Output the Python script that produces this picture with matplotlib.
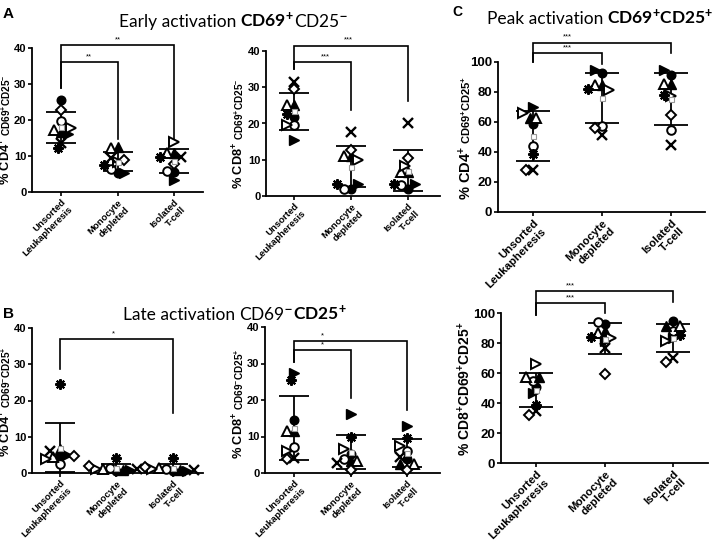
import matplotlib
matplotlib.use("Agg")
import matplotlib.pyplot as plt
import numpy as np

W, H = 727, 558

plt.rcParams['font.family'] = ['Liberation Sans', 'DejaVu Sans']
plt.rcParams['mathtext.fontset'] = 'custom'
plt.rcParams['mathtext.rm'] = 'Liberation Sans:bold'
plt.rcParams['mathtext.default'] = 'rm'

# ---- data (one value per donor, donor order matches marker list below) ----
categories = ['Unsorted\nLeukapheresis', 'Monocyte\ndepleted', 'Isolated\nT-cell']

# donors: filled circle, open circle, filled tri up, open tri up,
#         filled tri right, open tri right, cross, open diamond, asterisk
early_cd4_unsorted = [25.6, 19.8, 16.8, 17.2, 16.0, 17.7, 13.7, 22.8, 12.1]
early_cd4_monocyte = [5.4, 6.3, 12.4, 12.1, 5.2, 8.4, 9.4, 8.9, 7.5]
early_cd4_isolated = [5.6, 5.9, 10.7, 10.7, 3.3, 14.0, 9.6, 7.8, 9.8]

early_cd8_unsorted = [21.7, 19.7, 25.1, 25.1, 15.4, 19.5, 31.5, 29.4, 22.6]
early_cd8_monocyte = [1.8, 2.0, 11.0, 11.0, 3.2, 10.0, 17.7, 12.8, 3.4]
early_cd8_isolated = [1.8, 2.9, 6.6, 6.6, 3.2, 8.2, 20.2, 10.6, 3.2]

late_cd4_unsorted = [4.6, 2.5, 6.6, 4.4, 5.0, 3.9, 6.0, 4.8, 24.6]
late_cd4_monocyte = [0.6, 1.4, 0.8, 1.2, 0.8, 1.0, 1.0, 1.9, 4.2]
late_cd4_isolated = [0.5, 1.2, 0.7, 1.5, 0.6, 1.0, 0.9, 1.7, 4.2]

late_cd8_unsorted = [14.4, 7.1, 11.4, 11.4, 27.3, 5.9, 4.1, 3.9, 25.6]
late_cd8_monocyte = [5.2, 3.8, 3.2, 3.2, 16.1, 6.5, 2.7, 0.7, 10.0]
late_cd8_isolated = [3.8, 5.9, 2.5, 2.5, 12.9, 7.3, 4.5, 0.7, 9.5]

peak_cd4_unsorted = [58.9, 44.0, 62.7, 62.7, 70.0, 66.0, 27.8, 27.8, 38.4]
peak_cd4_monocyte = [92.9, 57.3, 84.4, 84.4, 94.4, 81.6, 51.1, 56.0, 82.2]
peak_cd4_isolated = [91.6, 54.4, 85.6, 85.6, 95.0, 77.1, 44.4, 64.9, 78.2]

peak_cd8_unsorted = [50.7, 54.9, 57.3, 57.3, 46.7, 66.0, 34.4, 31.8, 38.9]
peak_cd8_monocyte = [92.9, 93.8, 87.8, 86.7, 81.1, 83.3, 76.7, 59.6, 83.8]
peak_cd8_isolated = [94.4, 88.0, 91.1, 91.1, 83.3, 81.6, 70.0, 67.3, 85.1]

# ---- styles ----
marker_styles = [
    dict(marker='o', mfc='k', mec='k', ms=6.2),
    dict(marker='o', mfc='w', mec='k', ms=6.2, mew=1.4),
    dict(marker='^', mfc='k', mec='k', ms=7.2),
    dict(marker='^', mfc='w', mec='k', ms=7.2, mew=1.4),
    dict(marker='>', mfc='k', mec='k', ms=7.2),
    dict(marker='>', mfc='w', mec='k', ms=7.2, mew=1.4),
    dict(marker='x', mfc='k', mec='k', ms=6.5, mew=1.7),
    dict(marker='D', mfc='w', mec='k', ms=5.2, mew=1.4),
    dict(marker=(8, 2, 0), mfc='k', mec='k', ms=7.5, mew=1.5),
]

fig = plt.figure(figsize=(W / 100, H / 100), dpi=100)
fig.patch.set_facecolor('white')


def swarm(vals, ppu_y, ppu_x, d=6.3):
    # spread overlapping points sideways (pixel space)
    placed, offs = [], []
    cands = [0]
    for n in range(1, 12):
        cands += [-n, n]
    for v in vals:
        yp = v * ppu_y
        xp = 0
        for c in cands:
            xp = c * d * 0.55
            if all((xp - a) ** 2 + (yp - b) ** 2 >= d * d for a, b in placed):
                break
        placed.append((xp, yp))
        offs.append(xp / ppu_x)
    return offs


def draw_panel(box, groups, top, step, brackets, big=False):
    xl, xr, c0, c2, y0, ytop = box
    ax = fig.add_axes([xl / W, 1 - y0 / H, (xr - xl) / W, (y0 - ytop) / H])
    sp = (c2 - c0) / 2
    ax.set_xlim((xl - c0) / sp, (xr - c0) / sp)
    ax.set_ylim(0, top)
    ppu_y = (y0 - ytop) / top
    cap = 12.5 if big else 11
    for i, vals in enumerate(groups):
        vals = np.asarray(vals, dtype=float)
        m, s = vals.mean(), vals.std(ddof=1)
        ax.errorbar(i, m, yerr=s, color='k', lw=1.3, capsize=cap, capthick=1.3,
                    zorder=2, clip_on=False)
        offs = swarm(vals, ppu_y, sp)
        for v, o, st in zip(vals, offs, marker_styles):
            ax.plot(i + o, v, ls='none', clip_on=False, zorder=3, **st)
        ax.plot(i, m, marker='s', ms=3.6, mfc='w', mec='0.6', mew=0.8, zorder=5,
                clip_on=False)
    for (i, j, y, li, lj, lab, lx) in brackets:
        ax.plot([i, i, j, j], [li, y, y, lj], color='k', lw=1.2, clip_on=False,
                solid_joinstyle='miter')
        ax.text(lx, y + top * 0.012, lab, ha='center', va='bottom',
                fontsize=5.5, clip_on=False)
    for s in ['top', 'right']:
        ax.spines[s].set_visible(False)
    for s in ['left', 'bottom']:
        ax.spines[s].set_linewidth(1.3)
    ax.set_yticks(np.arange(0, top + 1, step))
    ax.set_xticks([0, 1, 2])
    ylab_size = 9.5 if big else 8.0
    xlab_size = 8.2 if big else 6.8
    ax.tick_params(direction='out', length=2.6, width=1.2, pad=1.5)
    ax.set_yticklabels([str(int(t)) for t in ax.get_yticks()],
                       fontsize=ylab_size, fontweight='bold')
    ax.set_xticklabels(categories, rotation=45, ha='right', rotation_mode='anchor',
                       fontsize=xlab_size, fontweight='bold')
    for t in ax.get_xticklabels():
        t.set_multialignment('right')
    return ax


renderer = fig.canvas.get_renderer()


def rich(x, y, parts, rotation=0):
    # pieces of text laid one after another, centred on pixel (x, y)
    items, total = [], 0.0
    for s, kw, gap in parts:
        t = fig.text(0, 0, s, rotation=rotation, rotation_mode='anchor',
                     ha='left', va='baseline', **kw)
        bb = t.get_window_extent(renderer)
        L = (bb.height if rotation else bb.width) + gap
        items.append((t, L))
        total += L
    cum = 0.0
    for t, L in items:
        if rotation:
            t.set_position((x / W, 1 - (y + total / 2 - cum) / H))
        else:
            t.set_position(((x - total / 2 + cum) / W, 1 - y / H))
        cum += L


draw_panel((32, 203, 61, 174, 192, 48),
           [early_cd4_unsorted, early_cd4_monocyte, early_cd4_isolated], 40, 10,
           [(0, 2, 40.8, 29, 14.7, '**', 1.0), (0, 1, 36, 29, 14.7, '**', 0.5)])
draw_panel((266, 440, 294, 408, 196, 51),
           [early_cd8_unsorted, early_cd8_monocyte, early_cd8_isolated], 40, 10,
           [(0, 2, 41.5, 35, 26.3, '***', 0.95), (0, 1, 37, 35, 23.7, '***', 0.55)])
draw_panel((32, 203, 60, 173, 473, 328),
           [late_cd4_unsorted, late_cd4_monocyte, late_cd4_isolated], 40, 10,
           [(0, 2, 37, 28.7, 16.6, '*', 0.95)])
draw_panel((265, 440, 294, 407, 473, 327),
           [late_cd8_unsorted, late_cd8_monocyte, late_cd8_isolated], 40, 10,
           [(0, 2, 36.2, 30.5, 17.3, '*', 0.5), (0, 1, 33.6, 30.5, 20.5, '*', 0.5)])
draw_panel((498, 705, 533, 671, 212, 62),
           [peak_cd4_unsorted, peak_cd4_monocyte, peak_cd4_isolated], 100, 20,
           [(0, 2, 113, 100, 106, '***', 0.5), (0, 1, 106, 100, 98.7, '***', 0.5)],
           big=True)
draw_panel((501, 708, 536, 673, 463, 313),
           [peak_cd8_unsorted, peak_cd8_monocyte, peak_cd8_isolated], 100, 20,
           [(0, 2, 114.4, 99, 107.3, '***', 0.5), (0, 1, 106.7, 99, 100, '***', 0.5)],
           big=True)

# y labels
small = dict(fontsize=7.2, fontweight='bold')
large = dict(fontsize=9.2, fontweight='bold')
rich(11, 130, [('% CD4$^{+}$', large, 1.5), ('CD69$^{+}$CD25$^{-}$', small, 0)], 90)
rich(244, 134, [('% CD8$^{+}$', large, 1.5), ('CD69$^{+}$CD25$^{-}$', small, 0)], 90)
rich(11, 402, [('% CD4$^{+}$', large, 1.5), ('CD69$^{-}$CD25$^{+}$', small, 0)], 90)
rich(244, 404, [('% CD8$^{+}$', large, 1.5), ('CD69$^{-}$CD25$^{+}$', small, 0)], 90)
rich(471, 138, [('% CD4$^{+}$', dict(fontsize=10.5, fontweight='bold'), 1.5),
                ('CD69$^{+}$CD25$^{+}$', dict(fontsize=8, fontweight='bold'), 0)], 90)
rich(470, 389, [('% CD8$^{+}$CD69$^{+}$CD25$^{+}$', dict(fontsize=10, fontweight='bold'), 0)], 90)

# titles
tn = dict(fontsize=12.5, family=['Lato', 'DejaVu Sans'])
tb = dict(fontsize=12.5, family=['Lato', 'DejaVu Sans'], fontweight='bold')
rich(233, 27, [('Early activation', tn, 4), ('CD69$^{+}$', tb, 0), ('CD25$^{-}$', tn, 0)])
rich(235, 320, [('Late activation', tn, 4), ('CD69$^{-}$', tn, 0), ('CD25$^{+}$', tb, 0)])
rich(600, 24, [('Peak activation', tn, 4), ('CD69$^{+}$CD25$^{+}$', tb, 0)])

# panel letters
fig.text(3 / W, 1 - 18 / H, 'A', fontsize=11, fontweight='bold', va='baseline')
fig.text(3 / W, 1 - 318 / H, 'B', fontsize=11, fontweight='bold', va='baseline')
fig.text(452 / W, 1 - 16 / H, 'C', fontsize=10, fontweight='bold', va='baseline')

fig.savefig('out.png', dpi=100, facecolor='white')
